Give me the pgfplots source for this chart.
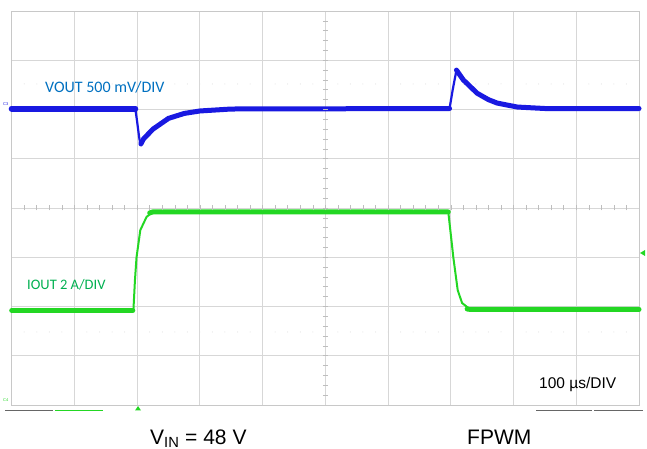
\documentclass[border=0pt]{standalone}
\usepackage{pgfplots}
\pgfplotsset{compat=1.18}
\usepackage{fontspec}
\setmainfont{Liberation Sans}
\newfontfamily\calibri{Carlito}
\definecolor{gridgray}{RGB}{215,215,215}
\definecolor{centergray}{RGB}{190,190,190}
\definecolor{bordergray}{RGB}{200,200,200}
\definecolor{vtrace}{RGB}{25,25,225}
\definecolor{itrace}{RGB}{35,215,35}
\definecolor{vlabel}{RGB}{0,112,192}
\definecolor{ilabel}{RGB}{0,176,80}

% VOUT trace (divisions)
\pgfplotstableread{
x y
0.00 6.02
1.97 6.02
2.00 5.75
2.03 5.45
2.05 5.30
2.10 5.40
2.25 5.60
2.50 5.82
2.75 5.92
3.00 5.97
3.50 6.01
6.98 6.02
7.03 6.40
7.09 6.80
7.20 6.60
7.42 6.33
7.60 6.20
7.74 6.13
8.06 6.05
8.50 6.02
10.00 6.02
}\vout
\pgfplotstableread{
x y
0.00 6.02
1.97 6.02
}\voutA
\pgfplotstableread{
x y
2.06 5.30
2.10 5.40
2.25 5.60
2.50 5.82
2.75 5.92
3.00 5.97
3.50 6.01
6.98 6.02
}\voutB
\pgfplotstableread{
x y
7.09 6.80
7.20 6.60
7.42 6.33
7.60 6.20
7.74 6.13
8.06 6.05
8.50 6.02
10.00 6.02
}\voutC

% IOUT trace (divisions)
\pgfplotstableread{
x y
0.00 1.92
1.94 1.92
1.965 2.54
1.99 3.00
2.05 3.55
2.15 3.82
2.25 3.92
6.96 3.92
7.04 3.00
7.11 2.33
7.18 2.07
7.31 1.94
10.00 1.94
}\iout
\pgfplotstableread{
x y
0.00 1.92
1.93 1.92
}\ioutA
\pgfplotstableread{
x y
2.20 3.90
2.25 3.92
6.96 3.92
}\ioutB
\pgfplotstableread{
x y
7.26 1.95
7.31 1.94
10.00 1.94
}\ioutC

\begin{document}
\begin{tikzpicture}
\path[use as bounding box] (0bp,0bp) rectangle (647bp,449bp);
\begin{axis}[
  at={(11.7bp,44bp)}, anchor=south west,
  scale only axis, width=627.3bp, height=394bp,
  xmin=0, xmax=10, ymin=0, ymax=8,
  xtick={0,...,10}, ytick={0,...,8},
  xticklabels={}, yticklabels={},
  major tick length=0pt,
  grid=major,
  grid style={draw=gridgray, line width=0.8bp},
  axis line style={draw=bordergray, line width=1bp},
  clip=false,
]
\addplot[vtrace, line width=2.2bp, line join=round, line cap=round] table[x=x,y=y] {\vout};
\addplot[vtrace, line width=6bp, line join=round, line cap=round] table[x=x,y=y] {\voutA};
\addplot[vtrace, line width=5bp, line join=round, line cap=round] table[x=x,y=y] {\voutB};
\addplot[vtrace, line width=5bp, line join=round, line cap=round] table[x=x,y=y] {\voutC};
\addplot[itrace, line width=2bp, line join=round, line cap=round] table[x=x,y=y] {\iout};
\addplot[itrace, line width=5bp, line join=round, line cap=round] table[x=x,y=y] {\ioutA};
\addplot[itrace, line width=5bp, line join=round, line cap=round] table[x=x,y=y] {\ioutB};
\addplot[itrace, line width=5bp, line join=round, line cap=round] table[x=x,y=y] {\ioutC};
\end{axis}
% center graticule ticks
\foreach \i in {1,...,49} {
  \draw[centergray, line width=0.6bp] ({11.7bp+\i*12.546bp},238.5bp) -- ({11.7bp+\i*12.546bp},243.5bp);
}
\foreach \i in {1,...,39} {
  \draw[centergray, line width=0.6bp] (322.8bp,{44bp+\i*9.85bp}) -- (327.9bp,{44bp+\i*9.85bp});
}
\foreach \i in {1,...,49} {
  \fill[gridgray] ({11.7bp+\i*12.546bp},365bp) circle (0.5bp);
  \fill[gridgray] ({11.7bp+\i*12.546bp},117bp) circle (0.5bp);
}
% channel markers
\node[anchor=west, inner sep=0pt, text=vtrace, font=\fontsize{4bp}{4bp}\selectfont] at (3bp,345bp) {C3};
\node[anchor=west, inner sep=0pt, text=itrace, font=\fontsize{4bp}{4bp}\selectfont] at (3bp,49bp) {C4};
\fill[itrace] (135bp,38.5bp) -- (141bp,38.5bp) -- (138bp,43bp) -- cycle;
\fill[itrace] (640bp,196bp) -- (645bp,193bp) -- (645bp,199bp) -- cycle;
\draw[gray!80!black, line width=1bp] (5bp,38bp) -- (53bp,38bp);
\draw[itrace, line width=1bp] (55bp,38bp) -- (103bp,38bp);
\draw[gray!80!black, line width=1bp] (536bp,38bp) -- (592bp,38bp);
\draw[gray!80!black, line width=1bp] (594bp,38bp) -- (643bp,38bp);
% labels
\node[anchor=west, inner sep=0pt, text=vlabel, font=\calibri\fontsize{16bp}{18bp}\selectfont] at (45bp,362bp) {VOUT 500 mV/DIV};
\node[anchor=west, inner sep=0pt, text=ilabel, font=\calibri\fontsize{14.5bp}{17bp}\selectfont] at (27bp,164bp) {IOUT 2 A/DIV};
\node[anchor=west, inner sep=0pt, font=\fontsize{15.5bp}{17bp}\selectfont] at (539bp,65bp) {100 µs/DIV};
\node[anchor=base west, inner sep=0pt, font=\fontsize{21bp}{24bp}\selectfont] at (150bp,5bp) {V\textsubscript{IN} = 48 V};
\node[anchor=base west, inner sep=0pt, font=\fontsize{21bp}{24bp}\selectfont] at (467bp,5bp) {FPWM};
\end{tikzpicture}
\end{document}
